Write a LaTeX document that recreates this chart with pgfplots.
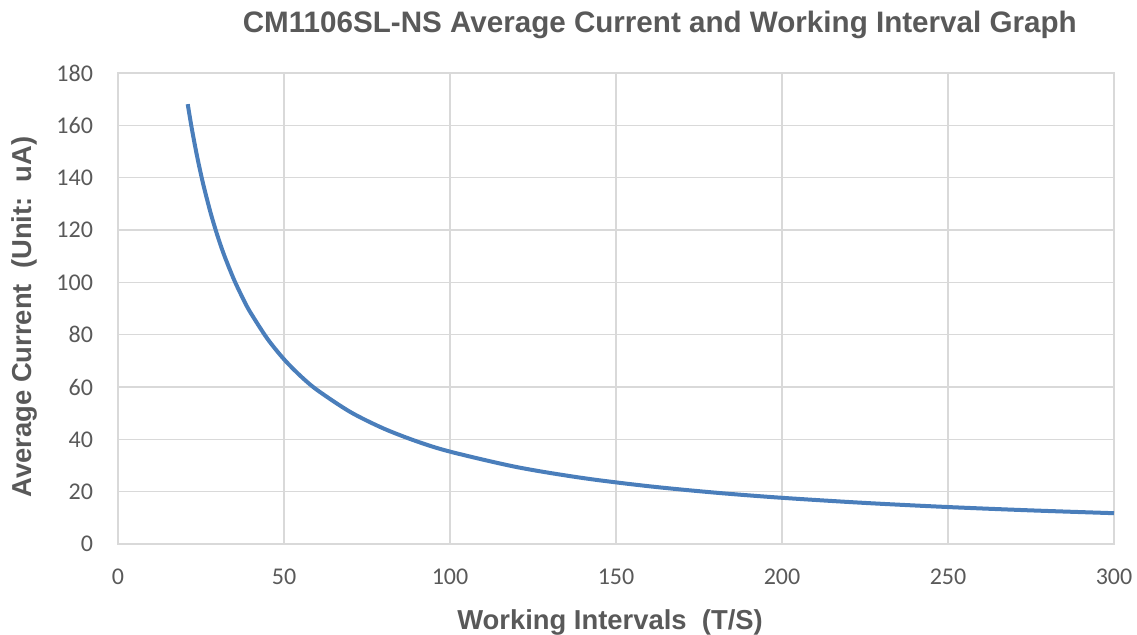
\documentclass[border=0pt]{standalone}
\usepackage{fontspec}
\setmainfont{Liberation Sans}
\newfontfamily\tickfont{Carlito}
\usepackage{pgfplots}
\pgfplotsset{compat=1.18}
\definecolor{txt}{HTML}{595959}
\definecolor{gridc}{HTML}{D9D9D9}
\definecolor{lineb}{HTML}{4A7EBB}
\begin{document}
\begin{tikzpicture}
\path[use as bounding box] (-59pt,-45.5pt) rectangle (509.5pt,272pt);
\begin{axis}[
  at={(0,0)}, anchor=south west,
  scale only axis, width=498pt, height=235.5pt,
  xmin=0, xmax=300, ymin=0, ymax=180,
  xtick={0,50,...,300}, ytick={0,20,...,180},
  grid=major, major grid style={gridc, line width=0.6pt},
  axis line style={gridc, line width=0.6pt},
  tick style={draw=none},
  /pgf/number format/assume math mode=true,
  ticklabel style={font=\tickfont\fontsize{12}{14}\selectfont, text=txt},
  yticklabel style={xshift=-9pt},
  xticklabel style={yshift=-9pt},
  clip=false,
]
\addplot[lineb, line width=2pt, smooth] coordinates {
(21,168.10) (22,160.45) (23,153.48) (24,147.08) (25,141.20) (26,135.77)
(28,126.07) (30,117.67) (32,110.31) (35,100.86) (38,92.89) (40,88.25)
(45,78.44) (50,70.60) (55,64.18) (60,58.83) (70,50.43) (80,44.13)
(90,39.22) (100,35.30) (120,29.42) (140,25.21) (160,22.06) (180,19.61)
(200,17.65) (225,15.69) (250,14.12) (275,12.84) (300,11.77)
};
\node[font=\bfseries\fontsize{14.8}{17}\selectfont, text=txt] at (axis description cs:0.544,1.102) {CM1106SL-NS Average Current and Working Interval Graph};
\node[font=\bfseries\fontsize{13.7}{16}\selectfont, text=txt] at (axis description cs:0.494,-0.166) {Working Intervals\ \ (T/S)};
\node[font=\bfseries\fontsize{13.7}{16}\selectfont, text=txt, rotate=90] at (axis description cs:-0.0934,0.482) {Average Current\ \ (Unit:\ \ uA)};
\end{axis}
\end{tikzpicture}
\end{document}
